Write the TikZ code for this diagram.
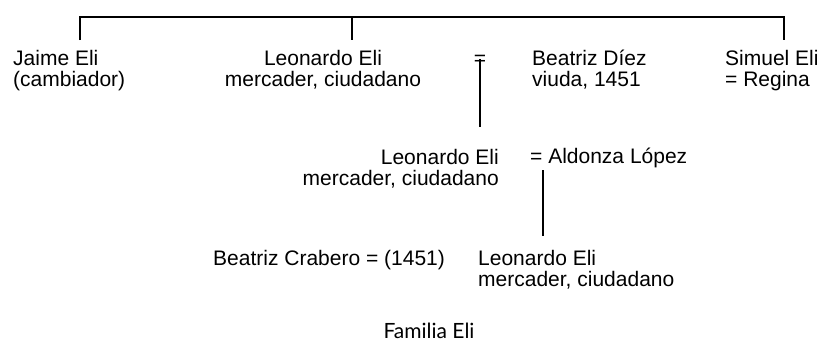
\documentclass[tikz,border=0pt]{standalone}
\usepackage{fontspec}
\setmainfont{Liberation Sans}
\newfontfamily\titlefont{Lato}
\usepackage{tikz}
\usetikzlibrary{positioning}
\tikzset{
  famname/.style={inner sep=0pt, font=\fontsize{21}{21}\selectfont},
  famleft/.style={famname, align=left, anchor=base west},
  famline/.style={line width=2.2pt},
  famtitle/.style={inner sep=0pt, anchor=base, font=\titlefont\fontsize{21}{21}\selectfont}
}
\begin{document}
\begin{tikzpicture}[x=1pt, y=-1pt]
\useasboundingbox (0,0) rectangle (826,343);
% first generation (base = last line)
\node[famleft] (jaime) at (13,86) {Jaime Eli\\(cambiador)};
\node[famname, align=center, anchor=base] (leo1) at (323,86) {Leonardo Eli\\mercader, ciudadano};
\node[famname, anchor=base] (eq1) at (480,65) {=};
\node[famleft] (beatriz) at (532,86) {Beatriz Díez\\viuda, 1451};
\node[famleft] (simuel) at (725,86) {Simuel Eli\\= Regina};
% second and third generation
\node[famname, align=right, anchor=base east] (leo2) at (499,185) {Leonardo Eli\\mercader, ciudadano};
\node[famleft] (aldonza) at (530,163) {= Aldonza López};
\node[famleft] (crabero) at (213,265) {Beatriz Crabero = (1451)};
\node[famleft] (leo3) at (478,286) {Leonardo Eli\\mercader, ciudadano};
\node[famtitle] (title) at (429,338) {Familia Eli};
% connectors
\coordinate (barL) at (80,17);
\coordinate (barM) at (352,17);
\coordinate (barR) at (784,17);
\coordinate (jaimeUp) at (80,40);
\coordinate (leoUp) at (352,40);
\coordinate (simuelUp) at (784,40);
\coordinate (leo2Up) at (480,127);
\coordinate (aldonzaDn) at (543,170);
\coordinate (leo3Up) at (543,236);
\draw[famline] (jaimeUp) -- (barL) -- (barR) -- (simuelUp);
\draw[famline] (barM) -- (leoUp);
\draw[famline] ([yshift=1pt]eq1.center) -- (leo2Up);
\draw[famline] (aldonzaDn) -- (leo3Up);
\end{tikzpicture}
\end{document}
